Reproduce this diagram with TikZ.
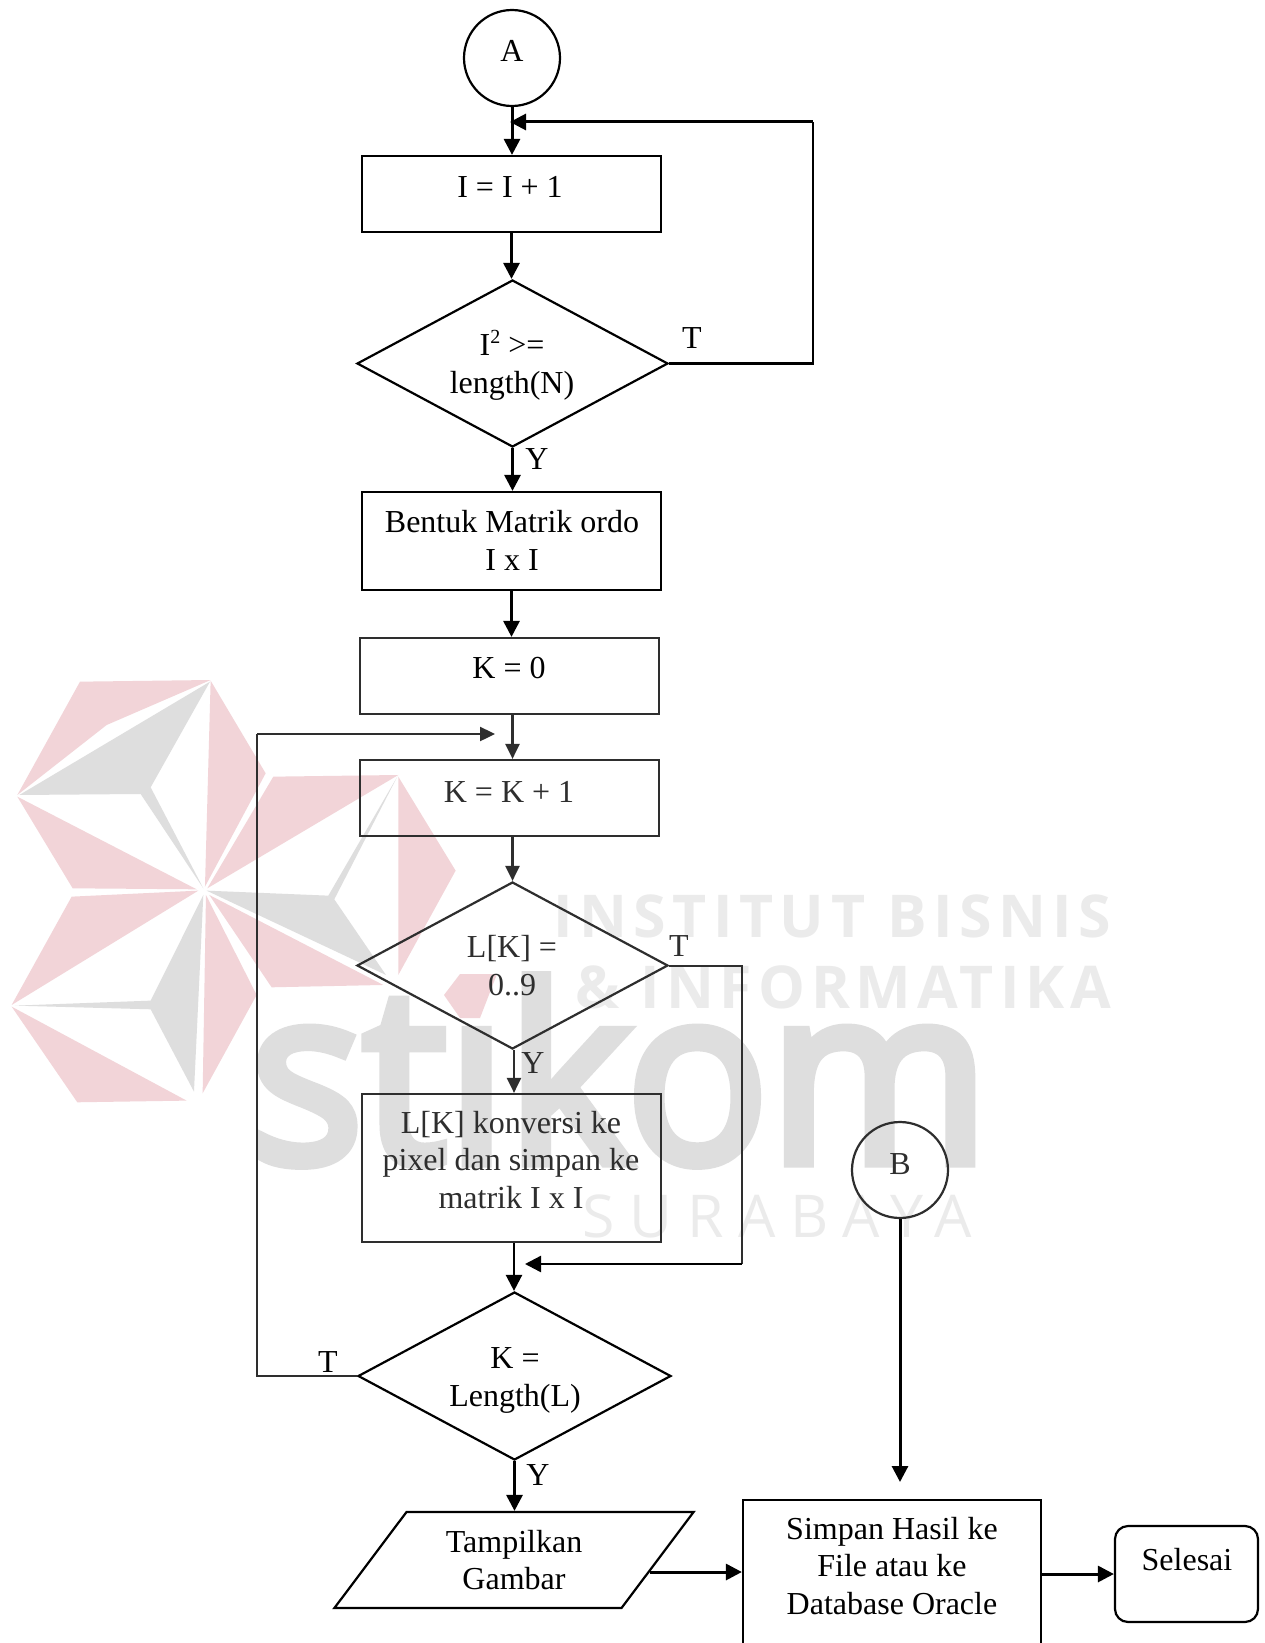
\documentclass[tikz,border=0pt]{standalone}
\usepackage{fontspec}
\setmainfont{Liberation Serif}
\newfontfamily\wmbold[LetterSpace=11]{Open Sans Bold}
\newfontfamily\wmboldb[LetterSpace=10]{Open Sans Bold}
\newfontfamily\wmword[FakeBold=4.5]{Open Sans}
\newfontfamily\wmreg[LetterSpace=25]{Open Sans}
\usetikzlibrary{shapes.geometric,arrows.meta}
\definecolor{wmpink}{HTML}{F2D4D8}
\definecolor{wmgray}{HTML}{DEDEDE}
\definecolor{wmlight}{HTML}{EBEBEB}
\definecolor{midline}{HTML}{2E2E2E}
\tikzset{
  x=1pt,y=-1pt,
  wp/.style={fill=wmpink,draw=none},
  wg/.style={fill=wmgray,draw=none},
  outline/.style={draw=black,line width=2.2pt,fill=none,inner sep=0pt},
  boxa/.style={outline,rectangle},
  decis/.style={outline,diamond},
  conn/.style={outline,circle,minimum size=96pt},
  txt/.style={font=\fontsize{32}{37.5}\selectfont,align=center,anchor=base,inner sep=0pt,text=black},
  flow/.style={draw=black,line width=3pt,-{Triangle[length=16pt,width=16pt]}},
  plain/.style={draw=black,line width=2.4pt},
  midbox/.style={draw=midline},
  midflow/.style={draw=midline,fill=midline,line width=2.4pt,-{Triangle[length=15pt,width=14pt]}},
  midplain/.style={draw=midline,line width=2pt},
}
\begin{document}
\begin{tikzpicture}
\useasboundingbox (0,0) rectangle (1264,1643);
\fill[white] (0,0) rectangle (1264,1643);
\clip (0,0) rectangle (1264,1643);
% watermark logo
\begin{scope}[shift={(0,660)},x=0.3333pt,y=-0.3333pt]
\fill[wp] (240,65)--(632,60)--(320,195)--(52,405)--cycle;
\fill[wg] (630,65)--(452,382)--(610,685)--(422,402)--(58,405)--cycle;
\fill[wp] (632,62)--(797,340)--(615,680)--cycle;
\fill[wp] (52,410)--(590,688)--(218,685)--cycle;
\fill[wp] (820,350)--(1195,345)--(622,685)--cycle;
\fill[wg] (620,692)--(985,707)--(1192,350)--(1003,718)--(1158,945)--cycle;
\fill[wp] (1195,350)--(1367,632)--(1195,945)--cycle;
\fill[wp] (628,705)--(1150,975)--(815,982)--cycle;
\fill[wp] (215,710)--(595,692)--(35,1035)--cycle;
\fill[wg] (610,705)--(452,1022)--(45,1037)--(452,1048)--(582,1295)--cycle;
\fill[wp] (618,705)--(770,1005)--(608,1300)--cycle;
\fill[wp] (35,1040)--(560,1322)--(232,1327)--cycle;
\end{scope}
\fill[wp] (444,995)--(460,974)--(497,974)--(480,1018)--(460,1018)--cycle;
\node[anchor=base west,inner sep=0pt,text=wmgray,font=\fontsize{244}{244}\wmword\selectfont,xscale=0.97] (wmw) at (250,1162) {st\char"0131 kom};
\node[anchor=base west,inner sep=0pt,text=wmlight,font=\fontsize{59}{59}\wmbold\selectfont] (wmline1) at (553,937) {INSTITUT BISNIS};
\node[anchor=base west,inner sep=0pt,text=wmlight,font=\fontsize{59}{59}\wmboldb\selectfont] (wmline2) at (575,1008) {\& INFORMATIKA};
\node[anchor=base west,inner sep=0pt,text=wmlight,font=\fontsize{59}{59}\wmreg\selectfont] (wmline3) at (582,1237) {SURABAYA};

% shapes
\node[conn] (A) at (512,58) {};
\node[boxa,minimum width=299pt,minimum height=76pt] (inc) at (511.5,194) {};
\node[decis,minimum width=311pt,minimum height=167pt] (d1) at (512.5,363.5) {};
\node[boxa,minimum width=299pt,minimum height=98pt] (mat) at (511.5,541) {};
\node[boxa,midbox,minimum width=299pt,minimum height=76pt] (k0) at (509.5,676) {};
\node[boxa,midbox,minimum width=299pt,minimum height=76pt] (kk) at (509.5,798) {};
\node[decis,midbox,minimum width=311pt,minimum height=167pt] (d2) at (512.5,965.5) {};
\node[boxa,midbox,minimum width=299pt,minimum height=148pt] (lk) at (511.5,1168) {};
\node[conn,midbox] (B) at (900,1170) {};
\node[decis,minimum width=313pt,minimum height=168pt] (d3) at (514.5,1376) {};
\node[outline,trapezium,trapezium left angle=52.7,trapezium right angle=127.3,trapezium stretches=true,minimum width=360pt,minimum height=96pt,font=\fontsize{32}{37.5}\selectfont,align=center] (tamp) at (514,1560) {Tampilkan\\Gambar};
\node[boxa,minimum width=298pt,minimum height=190pt] (sim) at (892,1595) {};
\node[boxa,rounded corners=13pt,minimum width=143pt,minimum height=96pt] (sel) at (1186.5,1574) {};

% free ends
\coordinate (xa) at (514,0);
\coordinate (j1) at (510,122);
\coordinate (c1) at (813,363.5);
\coordinate (c2) at (813,122);
\coordinate (j2) at (495,734);
\coordinate (c3) at (257,1376);
\coordinate (c4) at (257,734);
\coordinate (c5) at (742,965.5);
\coordinate (c6) at (742,1264);
\coordinate (j3) at (525,1264);
\coordinate (e1) at (900,1482);
\coordinate (po) at (650,1572);
\coordinate (so) at (1041,1574);

% connectors
\draw[flow] (A.south) -- (A.south |- inc.north);
\draw[flow] (inc.south) -- (inc.south |- d1.north);
\draw[flow] (d1.south) -- (d1.south |- mat.north);
\draw[flow] (mat.south) -- (mat.south |- k0.north);
\draw[plain] (d1.east) -- (c1) -- (c2);
\draw[flow] (c2) -- (j1);
\draw[midflow] (d2.north |- k0.south) -- (d2.north |- kk.north);
\draw[midflow] (d2.north |- kk.south) -- (d2.north);
\draw[midflow] (xa |- d2.south) -- (xa |- lk.north);
\draw[flow,line width=2.4pt] (xa |- lk.south) -- (xa |- d3.north);
\draw[midplain] (d2.east) -- (c5) -- (c6);
\draw[flow,line width=2.4pt] (c6) -- (j3);
\draw[midplain] (d3.west) -- (c3) -- (c4);
\draw[midflow] (c4) -- (j2);
\draw[flow] (d3.south) -- (d3.south |- tamp.north);
\draw[flow] (B.south) -- (e1);
\draw[flow] (po) -- (po -| sim.west);
\draw[flow] (so) -- (so -| sel.west);

% texts
\node[txt] (tA) at (512,62) {A};
\node[txt] (tinc) at (510,197) {I = I + 1};
\node[txt] (td1) at (512,393) {I\raisebox{12pt}{\fontsize{20}{20}\selectfont 2} >=\\length(N)};
\node[txt] (lT1) at (692,348) {T};
\node[txt] (lY1) at (537,469) {Y};
\node[txt] (tmat) at (512,570) {Bentuk Matrik ordo\\I x I};
\node[txt] (tk0) at (509,678) {K = 0};
\node[txt,text=midline] (tkk) at (509,802) {K = K + 1};
\node[txt,text=midline] (td2) at (512,995) {L[K] =\\0..9};
\node[txt,text=midline] (lT2) at (679,956) {T};
\node[txt,text=midline] (lY2) at (533,1073) {Y};
\node[txt,text=midline] (tlk) at (511,1208) {L[K] konversi ke\\pixel dan simpan ke\\matrik I x I};
\node[txt,text=midline] (tB) at (900,1174) {B};
\node[txt] (td3) at (515,1406) {K =\\Length(L)};
\node[txt] (lT3) at (328,1372) {T};
\node[txt] (lY3) at (538,1485) {Y};
\node[txt] (tsim) at (892,1614) {Simpan Hasil ke\\File atau ke\\Database Oracle};
\node[txt] (tsel) at (1187,1570) {Selesai};
\end{tikzpicture}
\end{document}
